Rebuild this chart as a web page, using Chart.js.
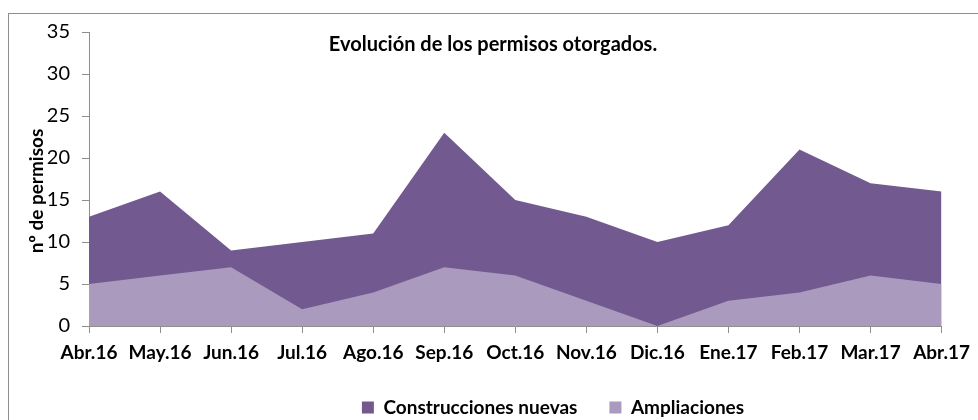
<!DOCTYPE html>
<html>
<head>
<meta charset="utf-8">
<script src="https://cdn.jsdelivr.net/npm/chart.js@4"></script>
<style>
  html, body { margin: 0; padding: 0; background: #ffffff; overflow: hidden; }
  #wrap { position: relative; width: 978px; height: 420px; }
  #frame { position: absolute; left: 8px; top: 13px; width: 1100px; height: 600px; border: 1px solid #8e8e8e; box-sizing: border-box; }
  canvas { position: absolute; left: 0; top: 0; }
</style>
</head>
<body>
<div id="wrap">
  <div id="frame"></div>
  <canvas id="c" width="978" height="420"></canvas>
</div>
<script>
const categories = ["Abr.16","May.16","Jun.16","Jul.16","Ago.16","Sep.16","Oct.16","Nov.16","Dic.16","Ene.17","Feb.17","Mar.17","Abr.17"];
const construccionesNuevas = [13,16,9,10,11,23,15,13,10,12,21,17,16];
const ampliaciones = [5,6,7,2,4,7,6,3,0,3,4,6,5];
const chartTitle = "Evolución de los permisos otorgados.";
const yAxisTitle = "nº de permisos";

const FONT = "Lato, 'Open Sans', sans-serif";

const titlePlugin = {
  id: 'innerTitle',
  afterLayout(chart) {
    if (chart.legend) { chart.legend.left += 72; chart.legend.right += 72; }
  },
  afterDraw(chart) {
    const ctx = chart.ctx;
    ctx.save();
    ctx.font = "bold 20px " + FONT;
    ctx.fillStyle = "#000";
    ctx.textAlign = "center";
    ctx.textBaseline = "middle";
    ctx.fillText(chartTitle, 493, 45);
    ctx.translate(37, 191);
    ctx.rotate(-Math.PI / 2);
    ctx.font = "bold 19px " + FONT;
    ctx.fillText(yAxisTitle, 0, 0);
    ctx.restore();
  }
};

new Chart(document.getElementById('c'), {
  type: 'line',
  data: {
    labels: categories,
    datasets: [
      { label: "Construcciones nuevas", data: construccionesNuevas, backgroundColor: "#725990", borderColor: "#725990", borderWidth: 0, pointRadius: 0, fill: 'origin', tension: 0, order: 1 },
      { label: "Ampliaciones", data: ampliaciones, backgroundColor: "#a99abe", borderColor: "#a99abe", borderWidth: 0, pointRadius: 0, fill: 'origin', tension: 0, order: 0 }
    ]
  },
  options: {
    responsive: false,
    animation: false,
    events: [],
    layout: { padding: { left: 20, top: 32, right: 36, bottom: -7 } },
    plugins: {
      title: { display: false },
      tooltip: { enabled: false },
      legend: {
        position: 'bottom',
        labels: {
          sort: (a, b) => a.datasetIndex - b.datasetIndex,
          boxWidth: 12, boxHeight: 12, padding: 32,
          color: "#000",
          font: { family: FONT, size: 19, weight: 'bold' }
        }
      }
    },
    scales: {
      x: {
        offset: false,
        grid: { display: true, drawOnChartArea: false, drawTicks: true, tickLength: 7, color: "#8e8e8e" },
        border: { display: true, color: "#8e8e8e", width: 1 },
        ticks: { color: "#000", padding: 8, maxRotation: 0, autoSkip: false, font: { family: FONT, size: 19, weight: 'bold' } },
        afterFit(scale) { scale.height = 40; }
      },
      y: {
        min: 0, max: 35,
        grid: { drawOnChartArea: false, drawTicks: true, tickLength: 7, color: "#8e8e8e" },
        border: { display: true, color: "#8e8e8e", width: 1 },
        ticks: { stepSize: 5, color: "#000", padding: 12, font: { family: FONT, size: 20 } },
        title: { display: false },
        afterFit(scale) { scale.width = 69; }
      }
    }
  },
  plugins: [titlePlugin]
});
</script>
</body>
</html>
